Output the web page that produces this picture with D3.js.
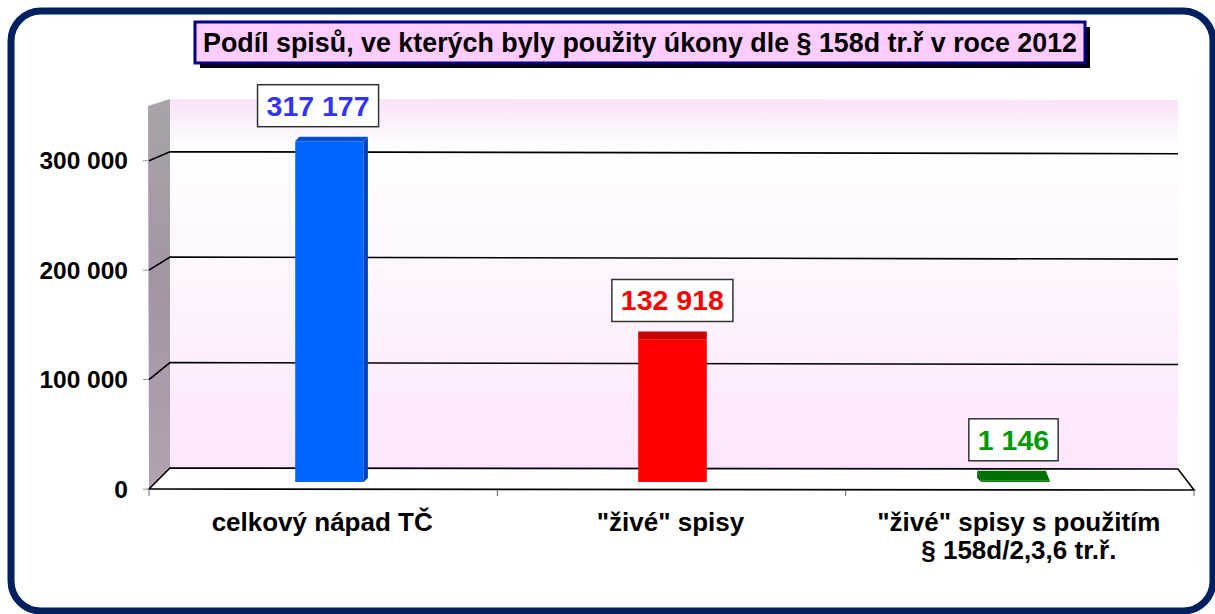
<!DOCTYPE html>
<html><head><meta charset="utf-8">
<script src="https://cdn.jsdelivr.net/npm/d3@7"></script>
<style>
html,body{margin:0;padding:0;background:#fff;}
svg{display:block;font-family:"Liberation Sans",Arial,sans-serif;}
</style></head>
<body><svg id="c" width="1215" height="614"></svg>
<script>
// ---- data ----
const title = "Podíl spisů, ve kterých byly použity úkony dle § 158d tr.ř v roce 2012";
const categories = ["celkový nápad TČ", "\"živé\" spisy", "\"živé\" spisy s použitím|§ 158d/2,3,6 tr.ř."];
const values = [317177, 132918, 1146];
const yTicks = [0, 100000, 200000, 300000];
const yMax = 350000;
const barColors = ["#0066ff", "#ff0000", "#008000"];
const barSide = ["#0040b8", "#b80000", "#005000"];
const barTop = ["#0050d8", "#c80000", "#007000"];
const labelColors = ["#3333ff", "#ff0000", "#009900"];

const cz = d3.formatLocale({decimal: ",", thousands: " ", grouping: [3], currency: ["", " Kč"]});
const fmt = cz.format(",d");

const svg = d3.select("#c");
const defs = svg.append("defs");

// frame
svg.append("rect").attr("x", 11).attr("y", 11).attr("width", 1202).attr("height", 600)
  .attr("rx", 30).attr("fill", "#fff").attr("stroke", "#002060").attr("stroke-width", 7);

// geometry
const front = {x0: 149, x1: 1194, y0: 489};
const back = {x0: 170, x1: 1178, y0: 468};
const yFront = d3.scaleLinear().domain([0, yMax]).range([front.y0, 106]);
const yBack = d3.scaleLinear().domain([0, yMax]).range([back.y0, 99]);
const yBar = d3.scaleLinear().domain([0, yMax]).range([482, 106]);

// gradients
const gw = defs.append("linearGradient").attr("id", "gw").attr("x1", 0).attr("y1", 0).attr("x2", 0).attr("y2", 1);
gw.append("stop").attr("offset", "0%").attr("stop-color", "#f8e2f8");
gw.append("stop").attr("offset", "13%").attr("stop-color", "#ffffff");
gw.append("stop").attr("offset", "100%").attr("stop-color", "#fde6fd");
const gl = defs.append("linearGradient").attr("id", "gl").attr("x1", 0).attr("y1", 0).attr("x2", 0).attr("y2", 1);
gl.append("stop").attr("offset", "0%").attr("stop-color", "#a8a4a8");
gl.append("stop").attr("offset", "50%").attr("stop-color", "#a494a4");
gl.append("stop").attr("offset", "100%").attr("stop-color", "#b2a2b2");

// back wall
svg.append("path").attr("d", d3.line()([
  [back.x0, yBack(yMax)], [back.x1, yBack(yMax) + 1], [back.x1, back.y0 + 1], [back.x0, back.y0]
])).attr("fill", "url(#gw)");

// left wall
svg.append("path").attr("d", d3.line()([
  [front.x0 - 1, yFront(yMax)], [back.x0, yBack(yMax)], [back.x0, back.y0], [front.x0, front.y0]
])).attr("fill", "url(#gl)");

// gridlines
yTicks.filter(d => d > 0).forEach(v => {
  svg.append("path").attr("d", d3.line()([
    [front.x0, yFront(v)], [back.x0, yBack(v)], [back.x1, yBack(v) + 2]
  ])).attr("fill", "none").attr("stroke", "#000").attr("stroke-width", 1.6);
});

// floor
svg.append("path").attr("d", d3.line()([
  [front.x0, front.y0], [back.x0, back.y0], [back.x1, back.y0 + 1], [front.x1, front.y0 + 1]
]) + "Z").attr("fill", "#fff").attr("stroke", "#000").attr("stroke-width", 1.6);

// y axis
const yAxisG = svg.append("g");
yTicks.forEach((v, i) => {
  yAxisG.append("line").attr("x1", front.x0 - 6).attr("x2", front.x0).attr("y1", yFront(v)).attr("y2", yFront(v))
    .attr("stroke", "#999").attr("stroke-width", 1);
  yAxisG.append("text").attr("x", 128).attr("y", yFront(v) + 8.5).attr("text-anchor", "end")
    .attr("font-size", 24.5).attr("font-weight", "bold").text(fmt(v));
});

// x axis (front floor)
const xFront = d3.scaleBand().domain(d3.range(categories.length)).range([front.x0, front.x1]);
d3.range(categories.length + 1).forEach(i => {
  const x = front.x0 + i * xFront.step();
  svg.append("line").attr("x1", x).attr("x2", x).attr("y1", front.y0 + i * 0.7).attr("y2", front.y0 + 7)
    .attr("stroke", "#666").attr("stroke-width", 1);
});
categories.forEach((c, i) => {
  const lines = c.split("|");
  const t = svg.append("text").attr("text-anchor", "middle").attr("font-size", 26).attr("font-weight", "bold");
  lines.forEach((l, j) => {
    t.append("tspan").attr("x", xFront(i) + xFront.bandwidth() / 2 - 1).attr("y", 531 + j * 28).text(l);
  });
});

// bars
const xBar = d3.scaleBand().domain(d3.range(values.length)).range([158, 1187]);
const vp = (back.x0 + back.x1) / 2 + 2;
const bw = xBar.step() * 0.2;
values.forEach((v, i) => {
  const xc = xBar(i) + xBar.step() / 2;
  const x0 = xc - bw / 2, x1 = xc + bw / 2;
  const yt = yBar(v), yb = yBar(0);
  const dx = (vp - xc) * 0.0118;
  const dy = -(4 + 6 * (1 - v / yMax));
  const g = svg.append("g");
  if (dx > 0.5) {
    g.append("path").attr("d", d3.line()([[x1, yt], [x1 + dx, yt + dy], [x1 + dx, yb - 4], [x1, yb]]) + "Z")
      .attr("fill", barSide[i]);
  } else if (dx < -0.5) {
    g.append("path").attr("d", d3.line()([[x0, yt], [x0 + dx, yt + dy], [x0 + dx, yb - 4], [x0, yb]]) + "Z")
      .attr("fill", barSide[i]);
  }
  g.append("rect").attr("x", x0).attr("y", yt).attr("width", bw).attr("height", Math.max(0, yb - yt))
    .attr("fill", barColors[i]);
  g.append("path").attr("d", d3.line()([[x0, yt], [x1, yt], [x1 + dx, yt + dy], [x0 + dx, yt + dy]]) + "Z")
    .attr("fill", barTop[i]);

  // value label box
  const label = fmt(v);
  const lx = xc - Math.max(dx, 0) * 2.8 + Math.min(dx, 0) * 0.5;
  const tx = svg.append("text").attr("text-anchor", "middle").attr("font-size", 28.5).attr("font-weight", "bold")
    .attr("fill", labelColors[i]).text(label);
  const tw = tx.node().getComputedTextLength();
  const boxH = 42, boxBottom = yt + dy - 10;
  svg.insert("rect", () => tx.node()).attr("x", lx - tw / 2 - 9).attr("y", boxBottom - boxH)
    .attr("width", tw + 18).attr("height", boxH).attr("fill", "#fff").attr("stroke", "#333").attr("stroke-width", 1.5);
  tx.attr("x", lx).attr("y", boxBottom - 11);
});

// title
const tg = svg.append("g");
tg.append("rect").attr("x", 200).attr("y", 27).attr("width", 890).attr("height", 41).attr("fill", "#000");
tg.append("rect").attr("x", 195).attr("y", 22).attr("width", 890).attr("height", 41)
  .attr("fill", "#ffccff").attr("stroke", "#000080").attr("stroke-width", 3);
tg.append("text").attr("x", 640).attr("y", 52).attr("text-anchor", "middle").attr("font-size", 28)
  .attr("textLength", 874).attr("lengthAdjust", "spacingAndGlyphs")
  .attr("font-weight", "bold").text(title);
</script></body></html>
